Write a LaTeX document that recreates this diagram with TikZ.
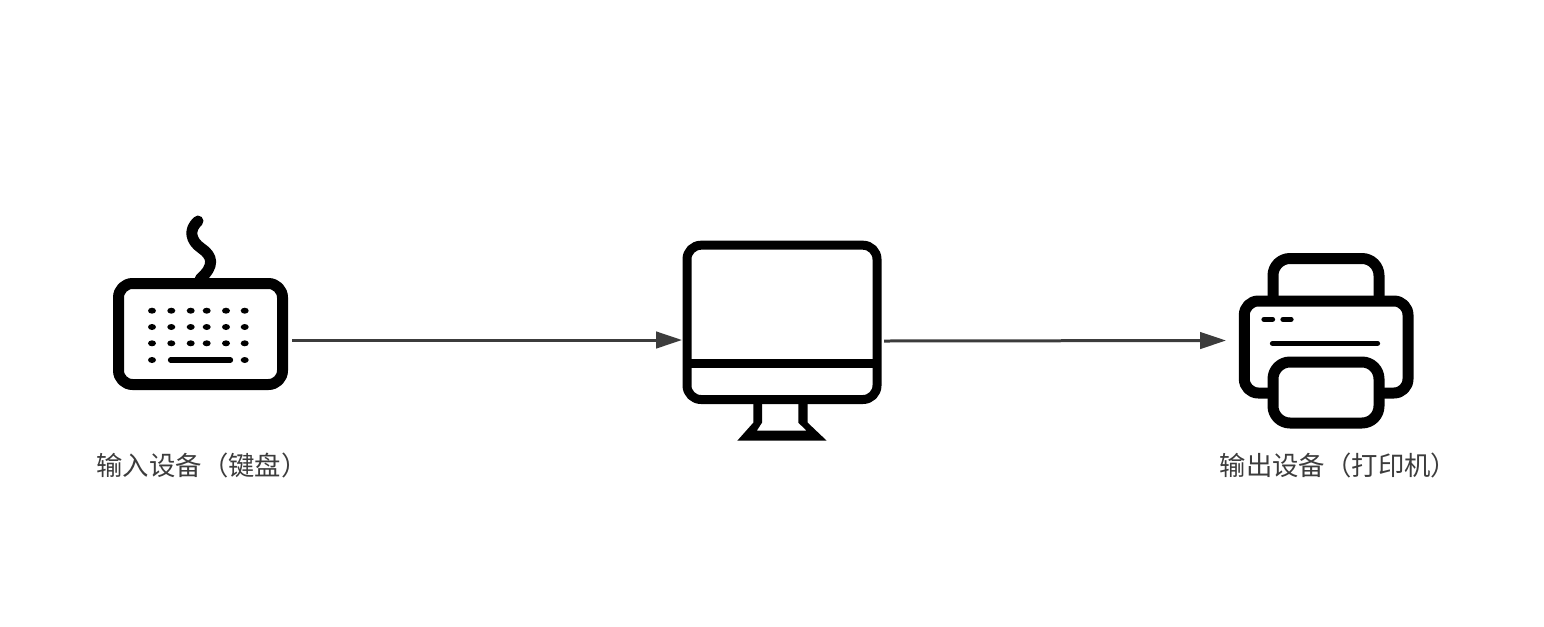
\documentclass[tikz,border=0pt]{standalone}
\usepackage{fontspec}
\newfontfamily\cjk{Noto Sans CJK SC}
\usepackage{tikz}
\usetikzlibrary{arrows.meta}
\definecolor{linegray}{HTML}{3C3C3C}
\tikzset{
	icon/.style={line width=0.22cm, draw=black, line join=round},
	thin key/.style={line width=0.105cm, draw=black, line cap=round},
	link/.style={-{Triangle[length=0.52cm,width=0.33cm]}, line width=0.06cm, draw=linegray},
	caption/.style={text=linegray, font=\cjk\fontsize{15pt}{18pt}\selectfont, inner sep=0pt}
}

\begin{document}
\begin{tikzpicture}[x=0.02cm,y=-0.02cm]
		\useasboundingbox (0,0) rectangle (1544,626);

		% keyboard
		\draw [icon, rounded corners=0.28cm] (118.5,283.5) rectangle (282.5,384.5);
		\draw [icon, line cap=round] (198,221) .. controls (188,230) and (191,241) .. (201,248)
			.. controls (213,256) and (215,266) .. (200,279);
		\foreach \x in {152,171.3,190.7,206.7,226,244.7}
			\foreach \y in {310.7,327,343.3}
				\fill (\x,\y) ellipse [x radius=4, y radius=3];
		\fill (152,360) ellipse [x radius=4, y radius=3];
		\fill (244.7,360) ellipse [x radius=4, y radius=3];
		\draw [thin key] (170.5,360) -- (230.5,360);

		% monitor
		\draw [icon, line width=0.18cm, rounded corners=0.28cm] (687,245.2) rectangle (877,399.5);
		\draw [icon, line width=0.18cm] (687,363.7) -- (877,363.7);
		\fill (753.3,403) -- (753.3,422.7) -- (737.3,440.7) -- (826.7,440.7) -- (807.7,422.7)
			-- (807.7,403) -- (798.3,403) -- (798.3,422.7) -- (806.7,430.7) -- (756.7,430.7)
			-- (762,422.7) -- (762,403) -- cycle;

		% printer
		\draw [icon, rounded corners=0.34cm] (1273,300) -- (1273,258.5) -- (1379,258.5) -- (1379,300);
		\draw [icon, rounded corners=0.28cm] (1273,393) -- (1244.3,393) -- (1244.3,301) -- (1408,301)
			-- (1408,393) -- (1379,393);
		\draw [icon, rounded corners=0.34cm] (1273,362) rectangle (1379,423);
		\draw [thin key] (1264,319.3) -- (1272.5,319.3);
		\draw [thin key] (1283,319.3) -- (1291,319.3);
		\draw [thin key] (1272.5,343.3) -- (1377.5,343.3);

		\coordinate (keyboardout) at (292,340);
		\coordinate (monitorin) at (682,340);
		\coordinate (monitorout) at (884,341);
		\coordinate (printerin) at (1226,340.5);
		\draw [link] (keyboardout) -- (monitorin);
		\draw [link] (monitorout) -- (printerin);

		\node [caption] (keyboardtext) at (202,465) {输入设备（键盘）};
		\node [caption] (printertext) at (1338.5,465) {输出设备（打印机）};
	\end{tikzpicture}
\end{document}
